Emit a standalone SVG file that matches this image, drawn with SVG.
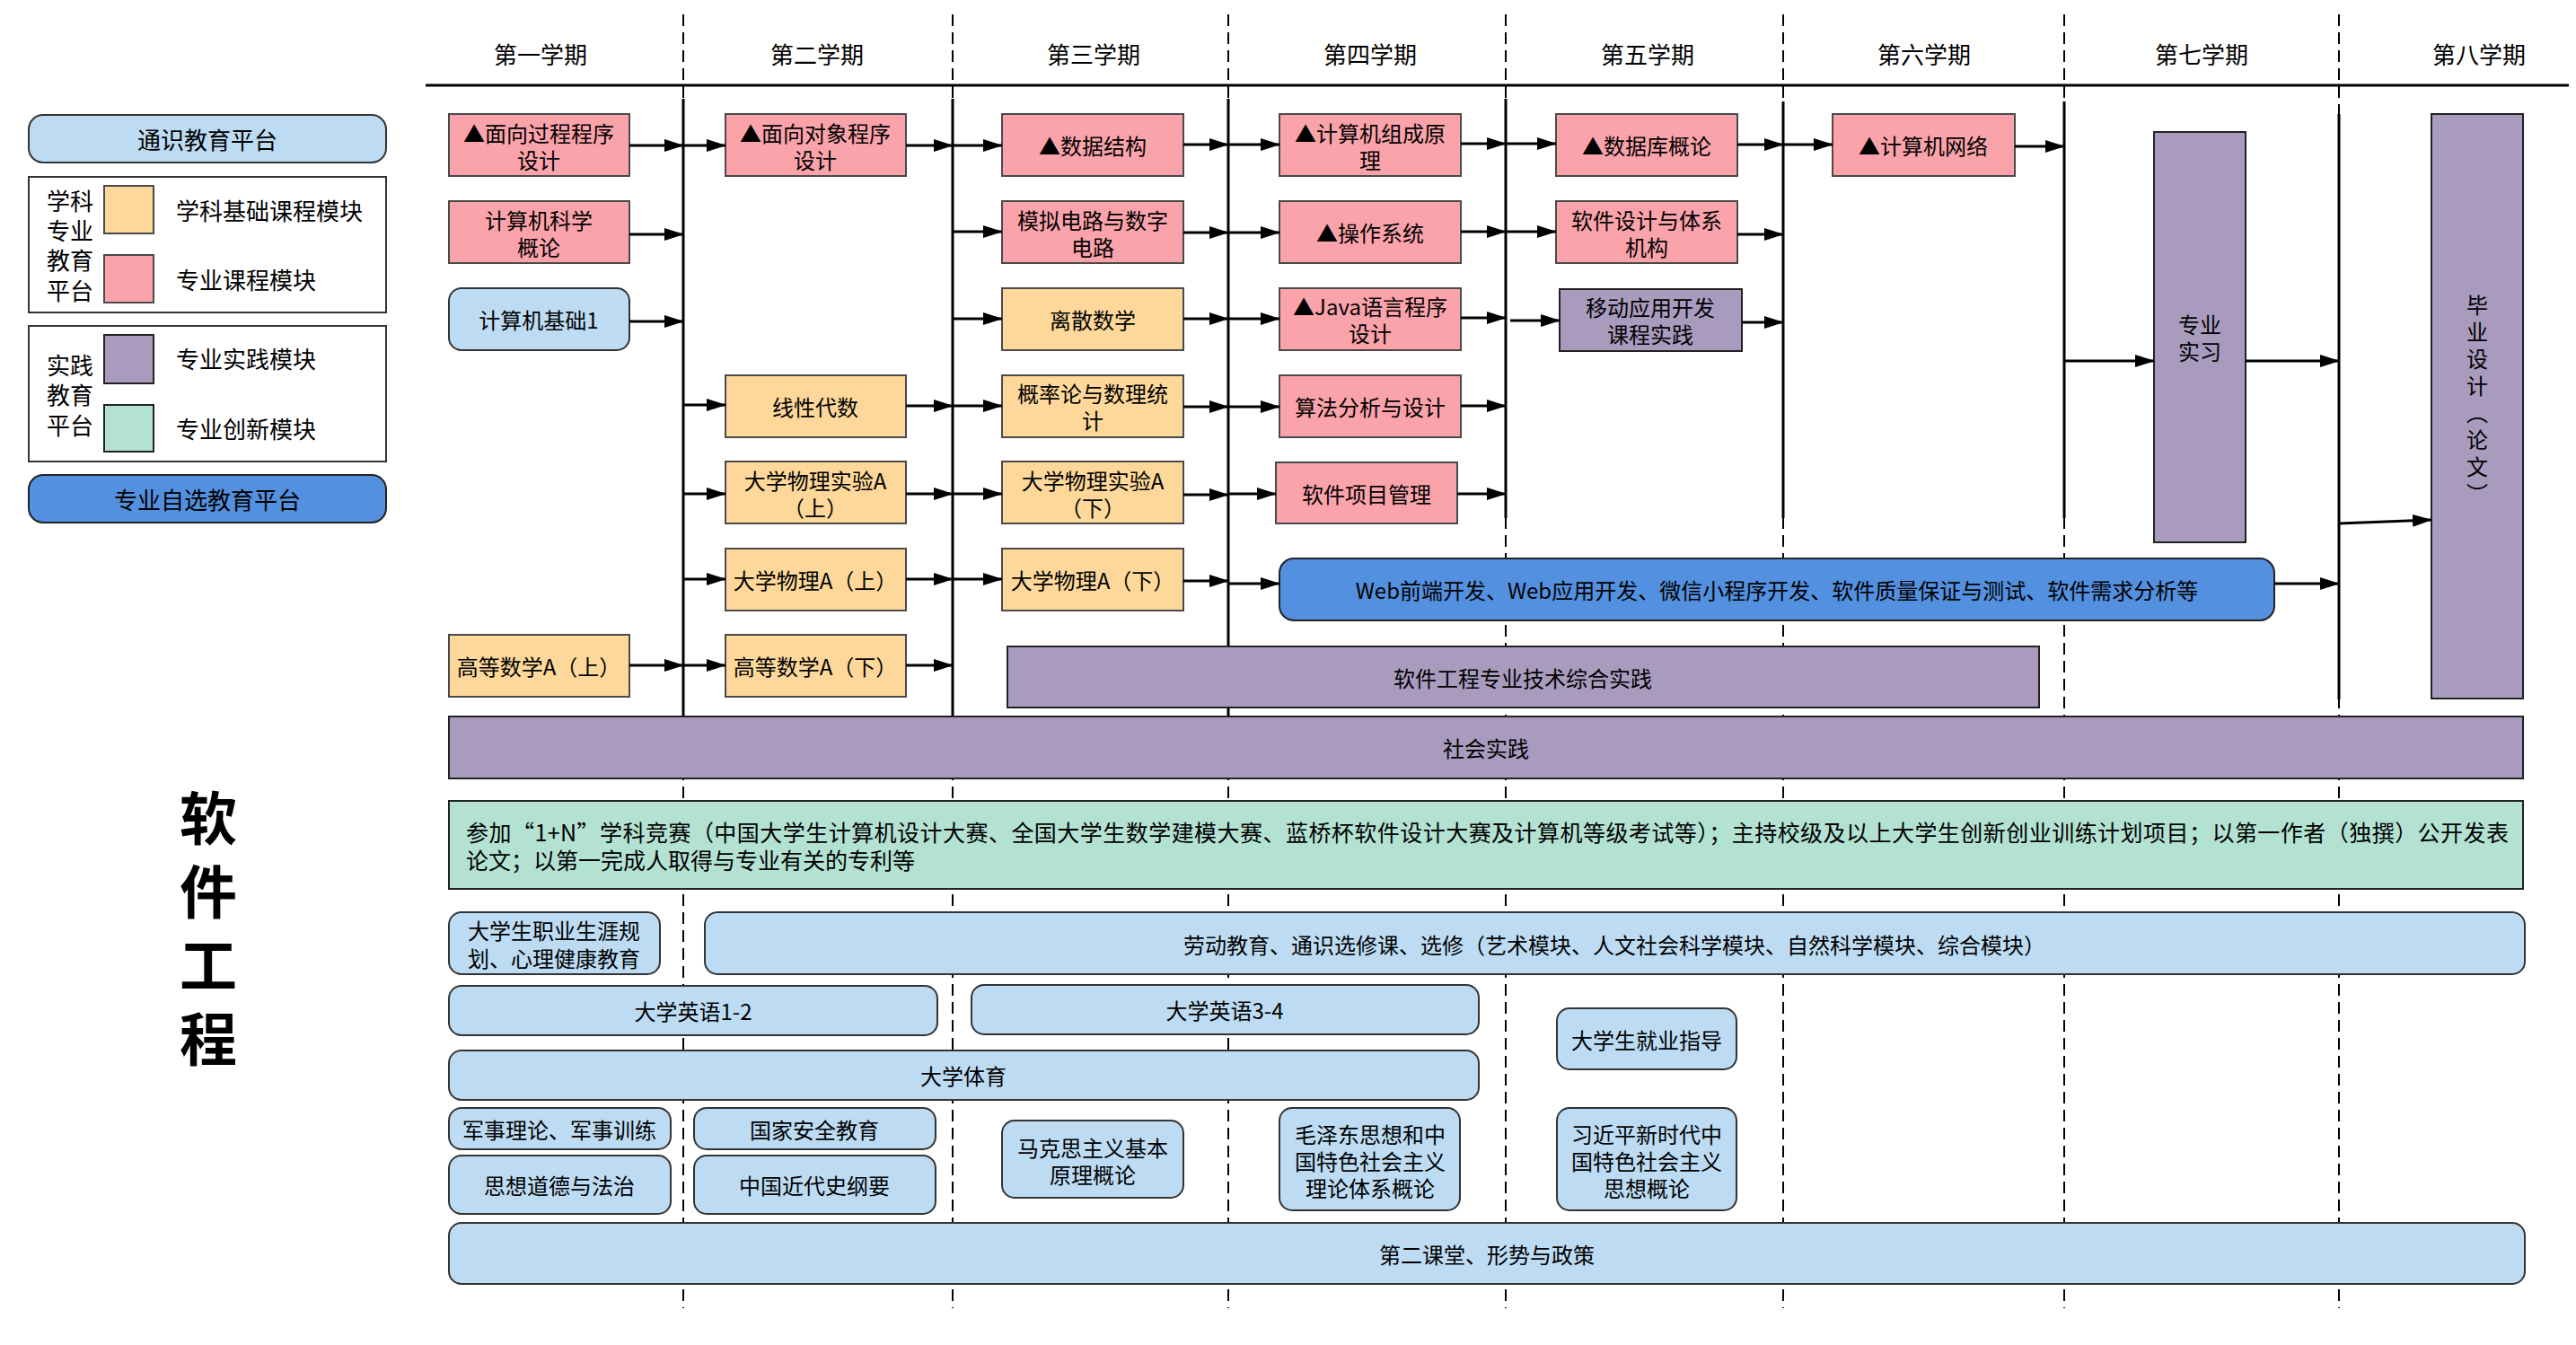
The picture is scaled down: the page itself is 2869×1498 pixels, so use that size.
<svg xmlns="http://www.w3.org/2000/svg" width="2869" height="1498" viewBox="0 0 2869 1498">
<style>
.t{font-family:"Noto Sans CJK SC","Noto Sans",sans-serif;font-size:24px;fill:#000;text-anchor:middle;dominant-baseline:central}
.h{font-size:26px}
.lg{font-size:26px}
.ll{text-anchor:start}
.pk{fill:#FBA3AA;stroke:#4a4a4a;stroke-width:2}
.yl{fill:#FDD89A;stroke:#4a4a4a;stroke-width:2}
.pu{fill:#A99BBD;stroke:#222;stroke-width:2}
.lb{fill:#BDDCF3;stroke:#333;stroke-width:2}
.bl{fill:#5390DF;stroke:#222;stroke-width:2}
.tl{fill:#B3E2D3;stroke:#222;stroke-width:2}
.wb{fill:#fff;stroke:#333;stroke-width:2}
.dash{stroke:#000;stroke-width:2;stroke-dasharray:13 7;fill:none}
.solid{stroke:#000;stroke-width:3;fill:none}
.arr{stroke:#000;stroke-width:3;fill:none;marker-end:url(#ah)}
</style>
<defs>
<marker id="ah" viewBox="0 0 22 14" refX="21" refY="7" markerWidth="22" markerHeight="14" markerUnits="userSpaceOnUse" orient="auto"><path d="M0,0 L22,7 L0,14 z" fill="#000"/></marker>
</defs>
<rect width="2869" height="1498" fill="#fff"/>

<g id="grid">
<line class="dash" x1="761" y1="16" x2="761" y2="1457"/>
<line class="dash" x1="1061" y1="16" x2="1061" y2="1457"/>
<line class="dash" x1="1368" y1="16" x2="1368" y2="1457"/>
<line class="dash" x1="1677" y1="16" x2="1677" y2="1457"/>
<line class="dash" x1="1986" y1="16" x2="1986" y2="1457"/>
<line class="dash" x1="2299" y1="16" x2="2299" y2="1457"/>
<line class="dash" x1="2605" y1="16" x2="2605" y2="1457"/>
<line class="solid" x1="474" y1="95" x2="2861" y2="95"/>
<line class="solid" x1="761" y1="110" x2="761" y2="798"/>
<line class="solid" x1="1061" y1="110" x2="1061" y2="798"/>
<line class="solid" x1="1368" y1="110" x2="1368" y2="798"/>
<line class="solid" x1="1677" y1="110" x2="1677" y2="577"/>
<line class="solid" x1="1986" y1="113" x2="1986" y2="577"/>
<line class="solid" x1="2299" y1="113" x2="2299" y2="577"/>
<line class="solid" x1="2605" y1="127" x2="2605" y2="779"/>
</g>

<g id="headers">
<text class="t h" x="602" y="59">第一学期</text>
<text class="t h" x="910" y="59">第二学期</text>
<text class="t h" x="1218" y="59">第三学期</text>
<text class="t h" x="1526" y="59">第四学期</text>
<text class="t h" x="1835" y="59">第五学期</text>
<text class="t h" x="2143" y="59">第六学期</text>
<text class="t h" x="2452" y="59">第七学期</text>
<text class="t h" x="2761" y="59">第八学期</text>
</g>

<g id="legend">
<rect class="lb" x="32" y="128" width="398" height="53" rx="16"/>
<text class="t lg" x="231" y="154">通识教育平台</text>
<rect class="wb" x="32" y="197" width="398" height="151"/>
<text class="t lg" x="78" y="222">学科</text>
<text class="t lg" x="78" y="255">专业</text>
<text class="t lg" x="78" y="288">教育</text>
<text class="t lg" x="78" y="322">平台</text>
<rect class="yl" x="116" y="207" width="55" height="53"/>
<rect class="pk" x="116" y="284" width="55" height="53"/>
<text class="t lg ll" x="196" y="233">学科基础课程模块</text>
<text class="t lg ll" x="196" y="310">专业课程模块</text>
<rect class="wb" x="32" y="363" width="398" height="151"/>
<text class="t lg" x="78" y="405">实践</text>
<text class="t lg" x="78" y="438">教育</text>
<text class="t lg" x="78" y="472">平台</text>
<rect class="pu" x="116" y="373" width="55" height="54"/>
<rect class="tl" x="116" y="451" width="55" height="52"/>
<text class="t lg ll" x="196" y="398">专业实践模块</text>
<text class="t lg ll" x="196" y="476">专业创新模块</text>
<rect class="bl" x="32" y="529" width="398" height="53" rx="16"/>
<text class="t lg" x="231" y="555">专业自选教育平台</text>
</g>

<g id="title">
<text class="t" x="232" y="879" style="font-size:64px;font-weight:bold;writing-mode:vertical-rl;text-anchor:start;letter-spacing:18px">软件工程</text>
</g>

<g id="n-c1r1"><rect class="pk" x="500" y="127" width="201" height="69"/><text class="t" x="600" y="147">▲面向过程程序</text><text class="t" x="600" y="177">设计</text></g>
<g id="n-c1r2"><rect class="pk" x="500" y="224" width="201" height="69"/><text class="t" x="600" y="244">计算机科学</text><text class="t" x="600" y="274">概论</text></g>
<g id="n-c1r3"><rect class="lb" x="500" y="321" width="201" height="69" rx="14"/><text class="t" x="600" y="355">计算机基础1</text></g>
<g id="n-c1r7"><rect class="yl" x="500" y="707" width="201" height="69"/><text class="t" x="600" y="741">高等数学A（上）</text></g>

<g id="n-c2r1"><rect class="pk" x="808" y="127" width="201" height="69"/><text class="t" x="908" y="147">▲面向对象程序</text><text class="t" x="908" y="177">设计</text></g>
<g id="n-c2r4"><rect class="yl" x="808" y="418" width="201" height="69"/><text class="t" x="908" y="452">线性代数</text></g>
<g id="n-c2r5"><rect class="yl" x="808" y="514" width="201" height="69"/><text class="t" x="908" y="534">大学物理实验A</text><text class="t" x="908" y="564">（上）</text></g>
<g id="n-c2r6"><rect class="yl" x="808" y="611" width="201" height="69"/><text class="t" x="908" y="645">大学物理A（上）</text></g>
<g id="n-c2r7"><rect class="yl" x="808" y="707" width="201" height="69"/><text class="t" x="908" y="741">高等数学A（下）</text></g>

<g id="n-c3r1"><rect class="pk" x="1116" y="127" width="202" height="69"/><text class="t" x="1217" y="161">▲数据结构</text></g>
<g id="n-c3r2"><rect class="pk" x="1116" y="224" width="202" height="69"/><text class="t" x="1217" y="244">模拟电路与数字</text><text class="t" x="1217" y="274">电路</text></g>
<g id="n-c3r3"><rect class="yl" x="1116" y="321" width="202" height="69"/><text class="t" x="1217" y="355">离散数学</text></g>
<g id="n-c3r4"><rect class="yl" x="1116" y="418" width="202" height="69"/><text class="t" x="1217" y="437">概率论与数理统</text><text class="t" x="1217" y="467">计</text></g>
<g id="n-c3r5"><rect class="yl" x="1116" y="514" width="202" height="69"/><text class="t" x="1217" y="534">大学物理实验A</text><text class="t" x="1217" y="564">（下）</text></g>
<g id="n-c3r6"><rect class="yl" x="1116" y="611" width="202" height="69"/><text class="t" x="1217" y="645">大学物理A（下）</text></g>

<g id="n-c4r1"><rect class="pk" x="1425" y="127" width="202" height="69"/><text class="t" x="1526" y="147">▲计算机组成原</text><text class="t" x="1526" y="177">理</text></g>
<g id="n-c4r2"><rect class="pk" x="1425" y="224" width="202" height="69"/><text class="t" x="1526" y="258">▲操作系统</text></g>
<g id="n-c4r3"><rect class="pk" x="1425" y="321" width="202" height="69"/><text class="t" x="1526" y="340">▲Java语言程序</text><text class="t" x="1526" y="370">设计</text></g>
<g id="n-c4r4"><rect class="pk" x="1425" y="418" width="202" height="69"/><text class="t" x="1526" y="452">算法分析与设计</text></g>
<g id="n-c4r5"><rect class="pk" x="1421" y="515" width="202" height="68"/><text class="t" x="1522" y="549">软件项目管理</text></g>

<g id="n-c5r1"><rect class="pk" x="1733" y="127" width="202" height="69"/><text class="t" x="1834" y="161">▲数据库概论</text></g>
<g id="n-c5r2"><rect class="pk" x="1733" y="224" width="202" height="69"/><text class="t" x="1834" y="244">软件设计与体系</text><text class="t" x="1834" y="274">机构</text></g>
<g id="n-c5r3"><rect class="pu" x="1737" y="322" width="203" height="69"/><text class="t" x="1838" y="341">移动应用开发</text><text class="t" x="1838" y="371">课程实践</text></g>

<g id="n-c6r1"><rect class="pk" x="2041" y="127" width="203" height="69"/><text class="t" x="2142" y="161">▲计算机网络</text></g>

<g id="n-intern"><rect class="pu" x="2399" y="147" width="102" height="457"/><text class="t" x="2450" y="360">专业</text><text class="t" x="2450" y="390">实习</text></g>
<g id="n-thesis"><rect class="pu" x="2708" y="127" width="102" height="651"/><text class="t" x="2759" y="328" style="writing-mode:vertical-rl;text-anchor:start;dominant-baseline:central;letter-spacing:6px">毕业设计（论文）</text></g>

<g id="n-web"><rect class="bl" x="1425" y="622" width="1108" height="69" rx="16"/><text class="t" x="1979" y="656">Web前端开发、Web应用开发、微信小程序开发、软件质量保证与测试、软件需求分析等</text></g>
<g id="n-sepractice"><rect class="pu" x="1122" y="720" width="1149" height="68"/><text class="t" x="1696" y="754">软件工程专业技术综合实践</text></g>
<g id="n-social"><rect class="pu" x="500" y="798" width="2310" height="69"/><text class="t" x="1655" y="832">社会实践</text></g>
<g id="n-innov"><rect class="tl" x="500" y="892" width="2310" height="98"/><text class="t ll" x="519" y="926" style="font-size:25px" textLength="2275" lengthAdjust="spacing">参加“1+N”学科竞赛（中国大学生计算机设计大赛、全国大学生数学建模大赛、蓝桥杯软件设计大赛及计算机等级考试等）；主持校级及以上大学生创新创业训练计划项目；以第一作者（独撰）公开发表</text><text class="t ll" x="519" y="957" style="font-size:25px">论文；以第一完成人取得与专业有关的专利等</text></g>

<g id="n-career"><rect class="lb" x="500" y="1016" width="235" height="69" rx="14"/><text class="t" x="617" y="1035">大学生职业生涯规</text><text class="t" x="617" y="1066">划、心理健康教育</text></g>
<g id="n-labor"><rect class="lb" x="785" y="1016" width="2027" height="69" rx="14"/><text class="t" x="1798" y="1051">劳动教育、通识选修课、选修（艺术模块、人文社会科学模块、自然科学模块、综合模块）</text></g>
<g id="n-eng12"><rect class="lb" x="500" y="1098" width="544" height="55" rx="14"/><text class="t" x="772" y="1125">大学英语1-2</text></g>
<g id="n-eng34"><rect class="lb" x="1082" y="1097" width="565" height="55" rx="14"/><text class="t" x="1364" y="1124">大学英语3-4</text></g>
<g id="n-pe"><rect class="lb" x="500" y="1170" width="1147" height="55" rx="14"/><text class="t" x="1073" y="1197">大学体育</text></g>
<g id="n-job"><rect class="lb" x="1734" y="1123" width="200" height="68" rx="14"/><text class="t" x="1834" y="1157">大学生就业指导</text></g>
<g id="n-military"><rect class="lb" x="500" y="1234" width="247" height="46" rx="14"/><text class="t" x="623" y="1257">军事理论、军事训练</text></g>
<g id="n-morals"><rect class="lb" x="500" y="1287" width="247" height="65" rx="14"/><text class="t" x="623" y="1319">思想道德与法治</text></g>
<g id="n-security"><rect class="lb" x="773" y="1234" width="269" height="46" rx="14"/><text class="t" x="907" y="1257">国家安全教育</text></g>
<g id="n-history"><rect class="lb" x="773" y="1287" width="269" height="65" rx="14"/><text class="t" x="907" y="1319">中国近代史纲要</text></g>
<g id="n-marx"><rect class="lb" x="1116" y="1248" width="202" height="86" rx="14"/><text class="t" x="1217" y="1277">马克思主义基本</text><text class="t" x="1217" y="1307">原理概论</text></g>
<g id="n-mao"><rect class="lb" x="1425" y="1234" width="201" height="114" rx="14"/><text class="t" x="1526" y="1262">毛泽东思想和中</text><text class="t" x="1526" y="1292">国特色社会主义</text><text class="t" x="1526" y="1322">理论体系概论</text></g>
<g id="n-xi"><rect class="lb" x="1734" y="1234" width="200" height="114" rx="14"/><text class="t" x="1834" y="1262">习近平新时代中</text><text class="t" x="1834" y="1292">国特色社会主义</text><text class="t" x="1834" y="1322">思想概论</text></g>
<g id="n-second"><rect class="lb" x="500" y="1362" width="2312" height="68" rx="14"/><text class="t" x="1656" y="1396">第二课堂、形势与政策</text></g>

<g id="connectors">
<line class="arr" x1="701" y1="162" x2="761" y2="162"/>
<line class="arr" x1="761" y1="162" x2="808" y2="162"/>
<line class="arr" x1="1009" y1="162" x2="1061" y2="162"/>
<line class="arr" x1="1061" y1="162" x2="1116" y2="162"/>
<line class="arr" x1="1318" y1="161" x2="1368" y2="161"/>
<line class="arr" x1="1368" y1="161" x2="1425" y2="161"/>
<line class="arr" x1="1627" y1="160" x2="1677" y2="160"/>
<line class="arr" x1="1677" y1="160" x2="1733" y2="160"/>
<line class="arr" x1="1935" y1="161" x2="1986" y2="161"/>
<line class="arr" x1="1986" y1="161" x2="2041" y2="161"/>
<line class="arr" x1="2244" y1="163" x2="2299" y2="163"/>

<line class="arr" x1="701" y1="261" x2="761" y2="261"/>
<line class="arr" x1="1061" y1="258" x2="1116" y2="258"/>
<line class="arr" x1="1318" y1="259" x2="1368" y2="259"/>
<line class="arr" x1="1368" y1="259" x2="1425" y2="259"/>
<line class="arr" x1="1627" y1="258" x2="1677" y2="258"/>
<line class="arr" x1="1677" y1="258" x2="1733" y2="258"/>
<line class="arr" x1="1935" y1="261" x2="1986" y2="261"/>

<line class="arr" x1="701" y1="358" x2="761" y2="358"/>
<line class="arr" x1="1061" y1="355" x2="1116" y2="355"/>
<line class="arr" x1="1318" y1="355" x2="1368" y2="355"/>
<line class="arr" x1="1368" y1="355" x2="1425" y2="355"/>
<line class="arr" x1="1627" y1="354" x2="1677" y2="354"/>
<line class="arr" x1="1682" y1="357" x2="1737" y2="357"/>
<line class="arr" x1="1940" y1="359" x2="1986" y2="359"/>

<line class="arr" x1="761" y1="451" x2="808" y2="451"/>
<line class="arr" x1="1009" y1="452" x2="1061" y2="452"/>
<line class="arr" x1="1061" y1="452" x2="1116" y2="452"/>
<line class="arr" x1="1318" y1="453" x2="1368" y2="453"/>
<line class="arr" x1="1368" y1="453" x2="1425" y2="453"/>
<line class="arr" x1="1627" y1="452" x2="1677" y2="452"/>

<line class="arr" x1="761" y1="550" x2="808" y2="550"/>
<line class="arr" x1="1009" y1="550" x2="1061" y2="550"/>
<line class="arr" x1="1061" y1="550" x2="1116" y2="550"/>
<line class="arr" x1="1318" y1="551" x2="1368" y2="551"/>
<line class="arr" x1="1368" y1="550" x2="1421" y2="550"/>
<line class="arr" x1="1623" y1="550" x2="1677" y2="550"/>

<line class="arr" x1="761" y1="645" x2="808" y2="645"/>
<line class="arr" x1="1009" y1="645" x2="1061" y2="645"/>
<line class="arr" x1="1061" y1="645" x2="1116" y2="645"/>
<line class="arr" x1="1318" y1="647" x2="1368" y2="647"/>
<line class="arr" x1="1368" y1="650" x2="1425" y2="650"/>
<line class="arr" x1="2533" y1="650" x2="2605" y2="650"/>

<line class="arr" x1="701" y1="741" x2="761" y2="741"/>
<line class="arr" x1="761" y1="741" x2="808" y2="741"/>
<line class="arr" x1="1009" y1="741" x2="1061" y2="741"/>

<line class="arr" x1="2299" y1="402" x2="2399" y2="402"/>
<line class="arr" x1="2501" y1="402" x2="2605" y2="402"/>
<line class="arr" x1="2605" y1="583" x2="2708" y2="579"/>
</g>
</svg>
